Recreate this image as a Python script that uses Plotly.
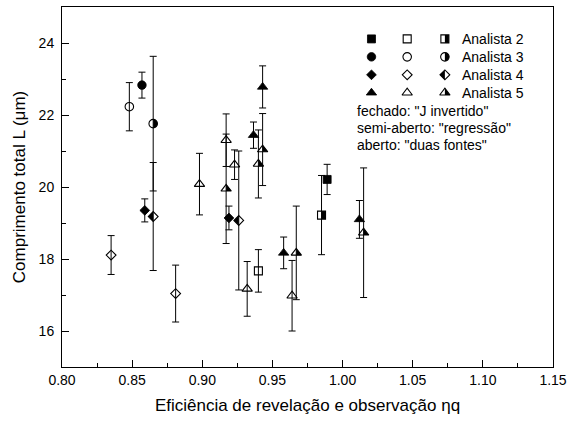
import math
import plotly.graph_objects as go

# ---- data: efficiency (x), total length L in um (y), error (e) ----
# Analista 2 (squares)
a2_fech_x = [0.989]
a2_fech_y = [20.21]
a2_fech_e = [0.42]
a2_aber_x = [0.940]
a2_aber_y = [17.67]
a2_aber_e = [0.59]
a2_semi_x = [0.985]
a2_semi_y = [19.22]
a2_semi_e = [1.10]

# Analista 3 (circles)
a3_fech_x = [0.857]
a3_fech_y = [22.83]
a3_fech_e = [0.36]
a3_aber_x = [0.848]
a3_aber_y = [22.23]
a3_aber_e = [0.67]
a3_semi_x = [0.865]
a3_semi_y = [21.76]
a3_semi_e = [1.87]

# Analista 4 (diamonds)
a4_fech_x = [0.859, 0.919]
a4_fech_y = [19.35, 19.14]
a4_fech_e = [0.32, 0.33]
a4_aber_x = [0.835, 0.881]
a4_aber_y = [18.11, 17.04]
a4_aber_e = [0.54, 0.79]
a4_semi_x = [0.865, 0.926]
a4_semi_y = [19.18, 19.07]
a4_semi_e = [1.50, 1.93]

# Analista 5 (triangles)
a5_fech_x = [0.9365, 0.943, 0.958, 1.012]
a5_fech_y = [21.44, 22.78, 18.17, 19.10]
a5_fech_e = [0.365, 0.585, 0.44, 0.525]
a5_aber_x = [0.898, 0.917, 0.923, 0.932, 0.964]
a5_aber_y = [20.08, 21.30, 20.62, 17.17, 16.98]
a5_aber_e = [0.855, 0.73, 0.41, 0.76, 0.98]
a5_semi_x = [0.917, 0.940, 0.943, 0.967, 1.015]
a5_semi_y = [19.95, 20.64, 21.04, 18.17, 18.73]
a5_semi_e = [1.52, 0.945, 1.00, 1.30, 1.80]

analysts = ["Analista 2", "Analista 3", "Analista 4", "Analista 5"]
method_notes = ['fechado: "J invertido"', 'semi-aberto: "regressão"', 'aberto: "duas fontes"']

FONT = "Liberation Sans, Arial, sans-serif"
SYMBOLS = ["square", "circle", "diamond", "triangle-up"]
SIZES = [8, 8.5, 7.5, 9]

series = [
    # (analyst index, style, x, y, e)
    (0, "fech", a2_fech_x, a2_fech_y, a2_fech_e),
    (0, "aber", a2_aber_x, a2_aber_y, a2_aber_e),
    (0, "semi", a2_semi_x, a2_semi_y, a2_semi_e),
    (1, "fech", a3_fech_x, a3_fech_y, a3_fech_e),
    (1, "aber", a3_aber_x, a3_aber_y, a3_aber_e),
    (1, "semi", a3_semi_x, a3_semi_y, a3_semi_e),
    (2, "fech", a4_fech_x, a4_fech_y, a4_fech_e),
    (2, "aber", a4_aber_x, a4_aber_y, a4_aber_e),
    (2, "semi", a4_semi_x, a4_semi_y, a4_semi_e),
    (3, "fech", a5_fech_x, a5_fech_y, a5_fech_e),
    (3, "aber", a5_aber_x, a5_aber_y, a5_aber_e),
    (3, "semi", a5_semi_x, a5_semi_y, a5_semi_e),
]


def half_path(kind, size):
    """Pixel path (y up) of the filled half of a semi-filled marker."""
    r = size / 2.0
    if kind == 0:  # square, right half
        return f"M0,{-r} L{r},{-r} L{r},{r} L0,{r} Z"
    if kind == 1:  # circle, right half
        pts = []
        for i in range(17):
            a = math.radians(-90 + 180 * i / 16)
            pts.append(f"{r * math.cos(a):.2f},{r * math.sin(a):.2f}")
        return "M" + " L".join(pts) + " Z"
    if kind == 2:  # diamond, left half
        rd = 1.3 * r
        return f"M0,{rd} L{-rd},0 L0,{-rd} Z"
    # triangle, right half
    rt = r * 2 / math.sqrt(3)
    return f"M0,{r} L{rt:.2f},{-r / 2} L0,{-r / 2} Z"


def marker_for(kind, style):
    sym = SYMBOLS[kind]
    if style == "fech":
        return dict(symbol=sym, size=SIZES[kind], color="black",
                    line=dict(width=0.8, color="black"))
    return dict(symbol=sym + "-open", size=SIZES[kind], color="black",
                line=dict(width=1.1, color="black"))


fig = go.Figure()
shapes = []

for kind, style, xs, ys, es in series:
    fig.add_trace(go.Scatter(
        x=xs, y=ys, mode="markers",
        marker=marker_for(kind, style),
        error_y=dict(type="data", array=es, symmetric=True,
                     color="black", thickness=1, width=3.5),
        showlegend=False, hoverinfo="x+y",
    ))
    if style == "semi":
        for xv, yv in zip(xs, ys):
            shapes.append(dict(type="path", xref="x", yref="y",
                               xsizemode="pixel", ysizemode="pixel",
                               xanchor=xv, yanchor=yv,
                               path=half_path(kind, SIZES[kind]),
                               fillcolor="black", line=dict(width=0),
                               layer="above"))

# ---- custom key drawn on an overlay axis measured in pixels ----
KEY_COLS = [374, 410, 448]
KEY_ROWS = [38, 56, 74, 92]
KEY_TEXT_X = 463
NOTE_X = 357
NOTE_ROWS = [110, 127, 144]

annotations = []
for kind, name in enumerate(analysts):
    yk = KEY_ROWS[kind]
    for col, style in zip(KEY_COLS, ["fech", "aber", "semi"]):
        fig.add_trace(go.Scatter(
            x=[col], y=[yk], xaxis="x2", yaxis="y2", mode="markers",
            marker=marker_for(kind, style), showlegend=False, hoverinfo="skip",
        ))
        if style == "semi":
            shapes.append(dict(type="path", xref="x2", yref="y2",
                               xsizemode="pixel", ysizemode="pixel",
                               xanchor=col, yanchor=yk,
                               path=half_path(kind, SIZES[kind]),
                               fillcolor="black", line=dict(width=0),
                               layer="above"))
    annotations.append(dict(x=KEY_TEXT_X, y=yk, xref="x2", yref="y2",
                            text=name, showarrow=False, xanchor="left",
                            yanchor="middle",
                            font=dict(family=FONT, size=14, color="black")))

for yn, note in zip(NOTE_ROWS, method_notes):
    annotations.append(dict(x=NOTE_X, y=yn, xref="x2", yref="y2",
                            text=note, showarrow=False, xanchor="left",
                            yanchor="middle",
                            font=dict(family=FONT, size=14, color="black")))

axis_common = dict(
    showline=True, linecolor="black", linewidth=1, mirror=True,
    ticks="inside", tickcolor="black", tickwidth=1, ticklen=7,
    showgrid=False, zeroline=False,
    tickfont=dict(family=FONT, size=14, color="black"),
)

fig.update_layout(
    width=573, height=423,
    margin=dict(l=62, r=16, t=6, b=56),
    paper_bgcolor="white", plot_bgcolor="white",
    xaxis=dict(range=[0.80, 1.15], dtick=0.05, tick0=0.80, tickformat=".2f",
               minor=dict(ticks="inside", dtick=0.025, ticklen=4,
                          tickcolor="black", tickwidth=1),
               title=dict(text="Eficiência de revelação e observação ηq",
                          font=dict(family=FONT, size=17, color="black"),
                          standoff=12),
               **axis_common),
    yaxis=dict(range=[15, 25], dtick=2, tick0=16,
               minor=dict(ticks="inside", dtick=1, ticklen=4,
                          tickcolor="black", tickwidth=1),
               title=dict(text="Comprimento total L (μm)",
                          font=dict(family=FONT, size=17, color="black"),
                          standoff=8),
               ticklabelstandoff=4,
               **axis_common),
    xaxis2=dict(overlaying="x", range=[62, 557], visible=False, anchor="y2"),
    yaxis2=dict(overlaying="y", range=[367, 6], visible=False, anchor="x2"),
    shapes=shapes,
    annotations=annotations,
)

fig.write_html("out.html")
